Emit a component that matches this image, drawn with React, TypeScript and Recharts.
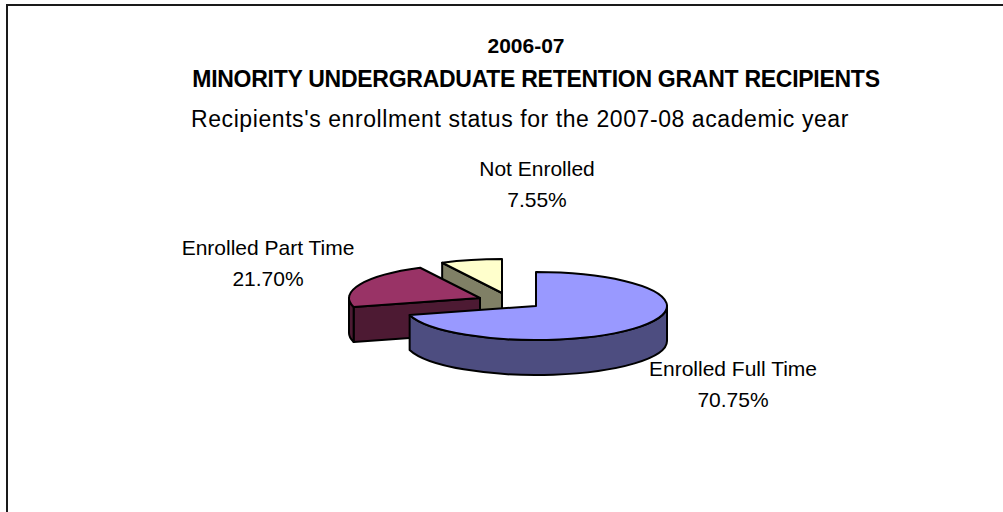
import { PieChart, Pie } from 'recharts'

// Listed counter-clockwise from 12 o'clock, so the front slice paints last
const CATEGORIES = ['Not Enrolled', 'Enrolled Part Time', 'Enrolled Full Time']
const PERCENTS = [7.55, 21.7, 70.75]

const TOP_COLORS = ['#FFFFCC', '#993366', '#9999FF']
const WALL_COLORS = ['#808066', '#4D1A33', '#4D4D80']
const SLICE_SHIFT = [[-34, -13], [-56, -8], [0, 0]]
const LABEL_CENTER = [[537, 176], [268, 255], [733, 376]]

const WIDTH = 1003
const HEIGHT = 512
const RX = 131
const RY = 34
const DEPTH = 35
const LABEL_FONT = '"Liberation Sans", Arial, sans-serif'

const data = CATEGORIES.map((name, i) => ({ name, value: PERCENTS[i] }))

function Slice3D(props: any) {
  const { startAngle, endAngle, cx, cy, index } = props
  const ox = cx + SLICE_SHIFT[index][0]
  const oy = cy + SLICE_SHIFT[index][1]
  const rim = (deg: number, drop = 0) => {
    const a = (deg * Math.PI) / 180
    return `${ox + RX * Math.cos(a)} ${oy - RY * Math.sin(a) + drop}`
  }
  const large = endAngle - startAngle > 180 ? 1 : 0
  const stroke = { stroke: '#000', strokeWidth: 2, strokeLinejoin: 'round' as const }

  // outer wall only shows on the lower half of the ellipse
  const wallFrom = Math.max(startAngle, 180)
  const wallTo = Math.min(endAngle, 360)
  const cosEnd = Math.cos((endAngle * Math.PI) / 180)
  const cosStart = Math.cos((startAngle * Math.PI) / 180)

  const face = (deg: number) => (
    <path
      d={`M${ox} ${oy}L${rim(deg)}L${rim(deg, DEPTH)}L${ox} ${oy + DEPTH}Z`}
      fill={WALL_COLORS[index]}
      {...stroke}
    />
  )

  return (
    <g>
      {cosEnd < -0.001 && face(endAngle)}
      {cosStart > 0.001 && face(startAngle)}
      {wallTo > wallFrom && (
        <path
          d={`M${rim(wallFrom)}A${RX} ${RY} 0 0 0 ${rim(wallTo)}L${rim(wallTo, DEPTH)}A${RX} ${RY} 0 0 1 ${rim(wallFrom, DEPTH)}Z`}
          fill={WALL_COLORS[index]}
          {...stroke}
        />
      )}
      <path
        d={`M${ox} ${oy}L${rim(startAngle)}A${RX} ${RY} 0 ${large} 0 ${rim(endAngle)}Z`}
        fill={TOP_COLORS[index]}
        {...stroke}
      />
    </g>
  )
}

function renderLabel(props: any) {
  const { index, name, value } = props
  const [x, y] = LABEL_CENTER[index]
  return (
    <text x={x} y={y} textAnchor="middle" fontFamily={LABEL_FONT} fontSize={21} fill="#000">
      <tspan x={x} dy={0}>{name}</tspan>
      <tspan x={x} dy={31}>{`${Number(value).toFixed(2)}%`}</tspan>
    </text>
  )
}

export default function App() {
  return (
    <div style={{ position: 'absolute', left: 0, top: 0, width: WIDTH, height: HEIGHT, background: '#fff' }}>
      <PieChart width={WIDTH} height={HEIGHT} margin={{ top: 0, right: 0, bottom: 0, left: 0 }}>
        <rect x={7} y={5} width={WIDTH} height={HEIGHT} fill="none" stroke="#1a1a1a" strokeWidth={2} />
        <text x={526} y={53} textAnchor="middle" fontFamily={LABEL_FONT} fontSize={21} fontWeight="bold">2006-07</text>
        <text x={536} y={87} textAnchor="middle" fontFamily={LABEL_FONT} fontSize={23} fontWeight="bold" letterSpacing={-0.27}>
          MINORITY UNDERGRADUATE RETENTION GRANT RECIPIENTS
        </text>
        <text x={520} y={127} textAnchor="middle" fontFamily={LABEL_FONT} fontSize={23} letterSpacing={0.58}>
          Recipients's enrollment status for the 2007-08 academic year
        </text>
        <Pie
          data={data}
          dataKey="value"
          nameKey="name"
          cx={536}
          cy={306}
          outerRadius={RX}
          startAngle={90}
          endAngle={450}
          stroke="none"
          isAnimationActive={false}
          shape={Slice3D}
          inactiveShape={Slice3D}
          activeShape={Slice3D}
          labelLine={false}
          label={renderLabel}
        />
      </PieChart>
    </div>
  )
}
